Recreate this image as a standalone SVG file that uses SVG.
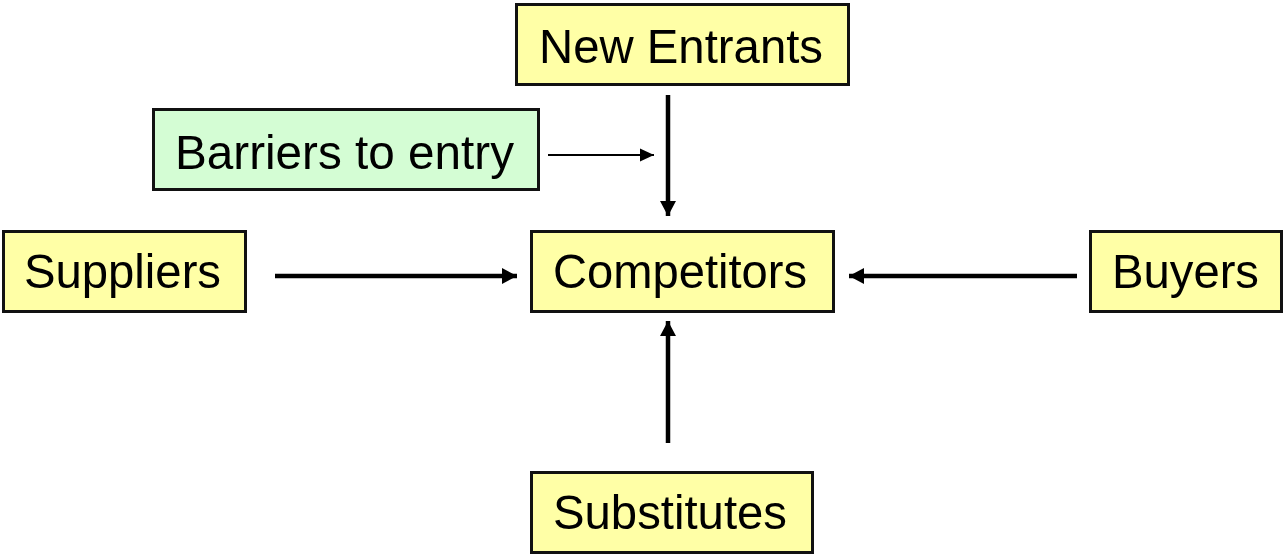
<svg xmlns="http://www.w3.org/2000/svg" width="1284" height="555" viewBox="0 0 1284 555">
  <style>
    .box { fill: #FFFFA6; stroke: #111; stroke-width: 3; }
    .green { fill: #D4FDD4; }
    .lbl { font-family: "Liberation Sans", Arial, sans-serif; font-size: 49px; fill: #000; }
    .thick { stroke: #000; stroke-width: 4.5; fill: none; }
    .thin { stroke: #000; stroke-width: 1.8; fill: none; }
  </style>
  <defs>
    <marker id="headBig" markerUnits="userSpaceOnUse" markerWidth="18" markerHeight="18" viewBox="0 0 18 18" refX="16" refY="9" orient="auto">
      <path d="M1,1 L16,9 L1,17 Z" fill="#000"/>
    </marker>
    <marker id="headSmall" markerUnits="userSpaceOnUse" markerWidth="16" markerHeight="16" viewBox="0 0 16 16" refX="15" refY="8" orient="auto">
      <path d="M1,1.5 L15,8 L1,14.5 Z" fill="#000"/>
    </marker>
  </defs>

  <g id="connectors">
    <line class="thick" x1="668" y1="95" x2="668" y2="216" marker-end="url(#headBig)"/>
    <line class="thin" x1="548" y1="155" x2="654" y2="155" marker-end="url(#headSmall)"/>
    <line class="thick" x1="275" y1="276" x2="517" y2="276" marker-end="url(#headBig)"/>
    <line class="thick" x1="1077" y1="276" x2="849" y2="276" marker-end="url(#headBig)"/>
    <line class="thick" x1="668" y1="443" x2="668" y2="321" marker-end="url(#headBig)"/>
  </g>

  <g id="new-entrants">
    <rect class="box" x="516.5" y="4.5" width="332" height="80"/>
    <text class="lbl" x="539" y="63" textLength="284" lengthAdjust="spacingAndGlyphs">New Entrants</text>
  </g>

  <g id="barriers">
    <rect class="box green" x="153.5" y="109.5" width="385" height="80"/>
    <text class="lbl" x="175" y="169" textLength="339" lengthAdjust="spacingAndGlyphs">Barriers to entry</text>
  </g>

  <g id="suppliers">
    <rect class="box" x="3.5" y="231.5" width="242" height="80"/>
    <text class="lbl" x="24" y="288" textLength="197" lengthAdjust="spacingAndGlyphs">Suppliers</text>
  </g>

  <g id="competitors">
    <rect class="box" x="531.5" y="231.5" width="302" height="80"/>
    <text class="lbl" x="553" y="288" textLength="254" lengthAdjust="spacingAndGlyphs">Competitors</text>
  </g>

  <g id="buyers">
    <rect class="box" x="1090.5" y="231.5" width="191" height="80"/>
    <text class="lbl" x="1112" y="288" textLength="147" lengthAdjust="spacingAndGlyphs">Buyers</text>
  </g>

  <g id="substitutes">
    <rect class="box" x="531.5" y="472.5" width="281" height="80"/>
    <text class="lbl" x="553" y="529" textLength="234" lengthAdjust="spacingAndGlyphs">Substitutes</text>
  </g>
</svg>
